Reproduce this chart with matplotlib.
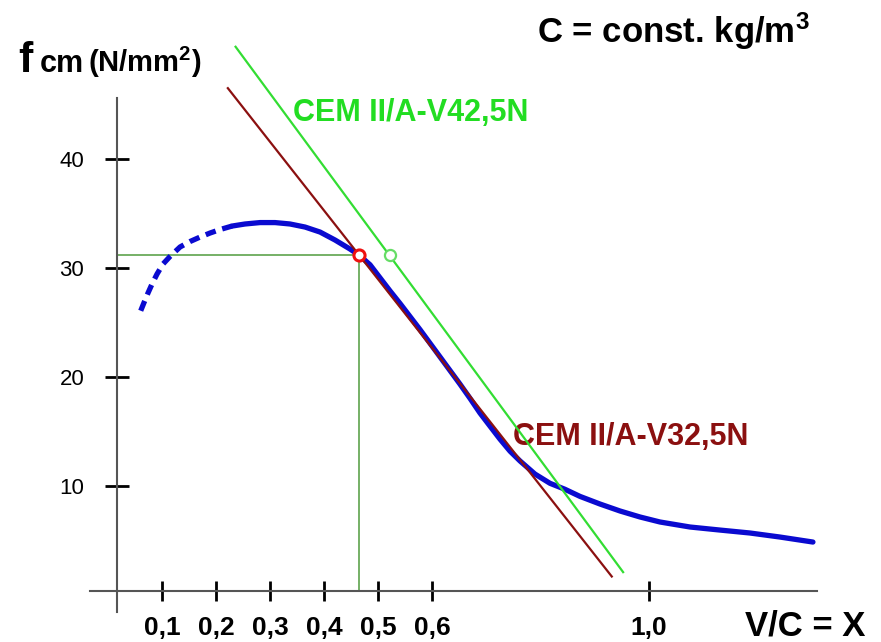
import matplotlib
matplotlib.use("Agg")
import matplotlib.pyplot as plt

plt.rcParams['mathtext.fontset'] = 'custom'
plt.rcParams['mathtext.rm'] = 'Liberation Sans:bold'
plt.rcParams['mathtext.it'] = 'Liberation Sans:bold'
plt.rcParams['mathtext.bf'] = 'Liberation Sans:bold'

# ---- data ----
curve_dash_x = [0.0600, 0.0661, 0.0735, 0.0809, 0.0902, 0.1013, 0.1142, 0.1328,
                0.1512, 0.1698, 0.1883, 0.2068, 0.2290]
curve_dash_y = [26.08, 26.83, 27.71, 28.53, 29.45, 30.37, 31.06, 31.93,
                32.43, 32.84, 33.21, 33.53, 33.85]
curve_x = [0.2290, 0.2531, 0.2809, 0.3087, 0.3364, 0.3642, 0.3920, 0.4197, 0.4475,
           0.4641, 0.4845, 0.5030, 0.5215, 0.5400, 0.5585, 0.5770, 0.5955, 0.6140,
           0.6325, 0.6510, 0.6695, 0.6880, 0.7065, 0.7251, 0.7436, 0.7621, 0.7898,
           0.8176, 0.8454, 0.8731, 0.9101, 0.9472, 0.9842, 1.0212, 1.0768, 1.1323,
           1.1878, 1.2433, 1.3044]
curve_y = [33.85, 34.04, 34.17, 34.17, 34.04, 33.76, 33.30, 32.57, 31.74,
           31.19, 30.30, 29.10, 27.90, 26.75, 25.55, 24.35, 23.10, 21.85,
           20.60, 19.35, 18.05, 16.70, 15.50, 14.30, 13.20, 12.30, 11.10,
           10.25, 9.70, 9.05, 8.35, 7.71, 7.16, 6.70, 6.24, 5.96,
           5.69, 5.32, 4.86]
cem42_x = [0.2356, 0.953]
cem42_y = [50.3, 2.1]
cem32_x = [0.2213, 0.932]
cem32_y = [46.5, 1.7]
point32 = (0.464, 31.2)
point42 = (0.521, 31.2)
xticks = [0.1, 0.2, 0.3, 0.4, 0.5, 0.6, 1.0]
xtick_labels = ['0,1', '0,2', '0,3', '0,4', '0,5', '0,6', '1,0']
yticks = [10, 20, 30, 40]
ytick_labels = ['10', '20', '30', '40']

fig = plt.figure(figsize=(8.81, 6.42), dpi=100)
ax = fig.add_axes([0, 0, 1, 1])
ax.set_xlim(-0.2005, 1.4304)
ax.set_ylim(-4.31, 54.59)
ax.patch.set_alpha(0)

# axes (spines) placed in data coords
x_axis_y = 0.37
y_axis_x = 0.0157
for s in ['top', 'right']:
    ax.spines[s].set_visible(False)
ax.spines['left'].set_position(('data', y_axis_x))
ax.spines['bottom'].set_position(('data', x_axis_y))
ax.spines['left'].set_bounds(-1.56, 45.6)
ax.spines['bottom'].set_bounds(-0.034, 1.311)
for s in ['left', 'bottom']:
    ax.spines[s].set_color('#555555')
    ax.spines[s].set_linewidth(1.5)

ax.set_xticks(xticks)
ax.set_xticklabels(xtick_labels)
ax.set_yticks(yticks)
ax.set_yticklabels(ytick_labels)
ax.tick_params(axis='x', direction='inout', length=14.5, width=2, color='black',
               pad=10.5, labelsize=19)
ax.tick_params(axis='y', direction='inout', length=17, width=2, color='black',
               pad=15, labelsize=16)
for lab in ax.get_xticklabels():
    lab.set_family(['Liberation Sans'])
    lab.set_fontweight('bold')
for lab in ax.get_yticklabels():
    lab.set_family(['Liberation Sans'])

# guide lines
guide = '#6aaa5a'
ax.plot([y_axis_x, point32[0]], [point32[1], point32[1]], color=guide, lw=1.3, zorder=2)
ax.plot([point32[0], point32[0]], [point32[1], x_axis_y], color=guide, lw=1.3, zorder=2)

# curve
blue = '#0a0ad0'
ax.plot(curve_dash_x, curve_dash_y, color=blue, lw=3.8, dashes=(2.0, 1.3),
        solid_capstyle='butt', zorder=3)
ax.plot(curve_x, curve_y, color=blue, lw=3.8, solid_capstyle='round',
        solid_joinstyle='round', zorder=3)

# tangent lines
ax.plot(cem42_x, cem42_y, color='#33dd33', lw=1.6, zorder=4)
ax.plot(cem32_x, cem32_y, color='#8b1010', lw=1.6, zorder=4)

ax.plot([point42[0]], [point42[1]], 'o', ms=8, mfc='white', mec='#66dd66', mew=1.6, zorder=5)
ax.plot([point32[0]], [point32[1]], 'o', ms=8, mfc='white', mec='#ee1111', mew=2.2, zorder=5)

# labels
ax.text(0.342, 44.2, 'CEM II/A-V42,5N', color='#22dd22', fontsize=22, fontweight='bold',
        family='Liberation Sans', ha='left', va='center')
ax.text(0.749, 14.5, 'CEM II/A-V32,5N', color='#8b1010', fontsize=22, fontweight='bold',
        family='Liberation Sans', ha='left', va='center')

fig.text(537 / 881, 1 - 31 / 642, 'C = const. kg/m$^3$', fontsize=25, fontweight='bold',
         family='Liberation Sans', ha='left', va='center')
fig.text(18 / 881, 1 - 72 / 642, 'f', fontsize=31, fontweight='bold',
         family='Liberation Sans', ha='left', va='baseline')
fig.text(40 / 881, 1 - 72 / 642, 'cm', fontsize=22, fontweight='bold',
         family='Liberation Sans', ha='left', va='baseline')
fig.text(88 / 881, 1 - 72 / 642, '(N/mm$^2$)', fontsize=21, fontweight='bold',
         family='Liberation Sans', ha='left', va='baseline')
fig.text(745 / 881, 1 - 626 / 642, 'V/C = X', fontsize=25, fontweight='bold',
         family='Liberation Sans', ha='left', va='center')

fig.savefig('out.png', dpi=100, facecolor='white')
